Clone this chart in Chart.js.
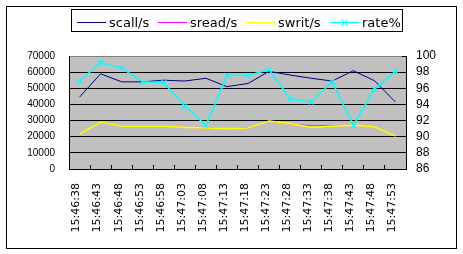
<!DOCTYPE html>
<html>
<head>
<meta charset="utf-8">
<script src="https://cdn.jsdelivr.net/npm/chart.js@4/dist/chart.umd.min.js"></script>
<style>
html,body{margin:0;padding:0;background:#fff;}
canvas{display:block;}
</style>
</head>
<body>
<canvas id="c" width="463" height="254"></canvas>
<script>
const categories = ['15:46:38','15:46:43','15:46:48','15:46:53','15:46:58','15:47:03','15:47:08','15:47:13','15:47:18','15:47:23','15:47:28','15:47:33','15:47:38','15:47:43','15:47:48','15:47:53'];
const scall = [44500, 59000, 54000, 54000, 55000, 54500, 56200, 51000, 53000, 60500, 58200, 56200, 54500, 60900, 54700, 41500];
const sread = [21500, 29100, 26500, 26500, 26500, 25800, 25400, 25000, 25400, 29700, 27900, 26800, 26800, 27200, 26200, 20400];
const swrit = [21500, 29100, 26500, 26500, 26500, 25800, 25400, 25000, 25400, 29700, 28100, 25900, 26500, 27200, 26200, 20400];
const rate  = [96.9, 99.2, 98.5, 96.8, 96.7, 93.8, 91.4, 97.6, 97.6, 98.3, 94.7, 94.3, 96.8, 91.4, 95.9, 98.1];
const leftTicks  = ['0','10000','20000','30000','40000','50000','60000','70000'];
const rightTicks = ['86','88','90','92','94','96','98','100'];
const seriesNames = ['scall/s','sread/s','swrit/s','rate%'];
const seriesColors = ['#000080','#FF00FF','#FFFF00','#00FFFF'];

const frame = {
  id: 'frame',
  beforeDraw(chart) {
    const ctx = chart.ctx, a = chart.chartArea;
    ctx.save();
    ctx.fillStyle = '#fff';
    ctx.fillRect(0, 0, chart.width, chart.height);
    ctx.strokeStyle = '#000';
    ctx.lineWidth = 1;
    ctx.strokeRect(6.5, 6.5, 450, 242);
    ctx.fillStyle = '#C0C0C0';
    ctx.fillRect(a.left, a.top, a.right - a.left, a.bottom - a.top);
    ctx.restore();
  },
  afterDraw(chart) {
    const ctx = chart.ctx;
    ctx.save();
    ctx.strokeStyle = '#000';
    ctx.lineWidth = 1;
    ctx.strokeRect(71.5, 9.5, 331, 22);
    const starts = [77, 158, 246, 330];
    ctx.font = '13px "DejaVu Sans"';
    ctx.textBaseline = 'alphabetic';
    ctx.textAlign = 'left';
    for (let i = 0; i < 4; i++) {
      const x0 = starts[i];
      ctx.strokeStyle = seriesColors[i];
      ctx.beginPath();
      ctx.moveTo(x0, 22.5);
      ctx.lineTo(x0 + 29, 22.5);
      ctx.stroke();
      if (i === 3) {
        const cx = x0 + 14.5, cy = 22.5, r = 3.5;
        ctx.beginPath();
        ctx.moveTo(cx - r, cy - r); ctx.lineTo(cx + r, cy + r);
        ctx.moveTo(cx - r, cy + r); ctx.lineTo(cx + r, cy - r);
        ctx.stroke();
      }
      ctx.fillStyle = '#000';
      ctx.fillText(seriesNames[i], x0 + 32, 27);
    }
    ctx.restore();
  }
};

new Chart(document.getElementById('c'), {
  type: 'line',
  data: {
    labels: categories,
    datasets: [
      {label: seriesNames[0], data: scall, yAxisID: 'y', borderColor: seriesColors[0], backgroundColor: seriesColors[0], borderWidth: 1, pointRadius: 0, order: 4},
      {label: seriesNames[1], data: sread, yAxisID: 'y', borderColor: seriesColors[1], backgroundColor: seriesColors[1], borderWidth: 1, pointRadius: 0, order: 3},
      {label: seriesNames[2], data: swrit, yAxisID: 'y', borderColor: seriesColors[2], backgroundColor: seriesColors[2], borderWidth: 1.6, pointRadius: 0, order: 2},
      {label: seriesNames[3], data: rate, yAxisID: 'y1', borderColor: seriesColors[3], backgroundColor: seriesColors[3], borderWidth: 1.5, pointRadius: 3.5, pointStyle: 'crossRot', pointBorderWidth: 1.2, order: 1}
    ]
  },
  options: {
    responsive: false,
    animation: false,
    devicePixelRatio: 1,
    layout: {padding: {top: 56, left: 0, right: 0, bottom: 0}},
    plugins: {legend: {display: false}, tooltip: {enabled: false}},
    elements: {line: {tension: 0}},
    scales: {
      x: {
        type: 'category',
        offset: true,
        grid: {display: true, drawOnChartArea: false, drawTicks: true, tickLength: -4, offset: true, color: '#000'},
        border: {display: true, color: '#000'},
        ticks: {autoSkip: false, minRotation: 90, maxRotation: 90, padding: 18, labelOffset: -3, color: '#000', font: {family: 'DejaVu Sans', size: 11}},
        afterFit(s) { s.height = 85; }
      },
      y: {
        position: 'left',
        min: 0, max: 70000,
        ticks: {autoSkip: false, stepSize: 10000, padding: 18, color: '#000', font: {family: 'Liberation Sans', size: 10},
          callback: (v, i) => leftTicks[i]},
        grid: {color: (c) => (c.tick && c.tick.value === 70000) ? '#808080' : '#000', tickLength: -4, drawTicks: true},
        border: {display: true, color: '#000'},
        afterFit(s) { s.width = 69; }
      },
      y1: {
        position: 'right',
        min: 86, max: 100,
        ticks: {autoSkip: false, stepSize: 2, padding: 14, color: '#000', font: {family: 'Liberation Sans', size: 12},
          callback: (v, i) => rightTicks[i]},
        grid: {drawOnChartArea: false, tickLength: -4, drawTicks: true, color: '#000'},
        border: {display: true, color: '#000'},
        afterFit(s) { s.width = 57; }
      }
    }
  },
  plugins: [frame]
});
</script>
</body>
</html>
